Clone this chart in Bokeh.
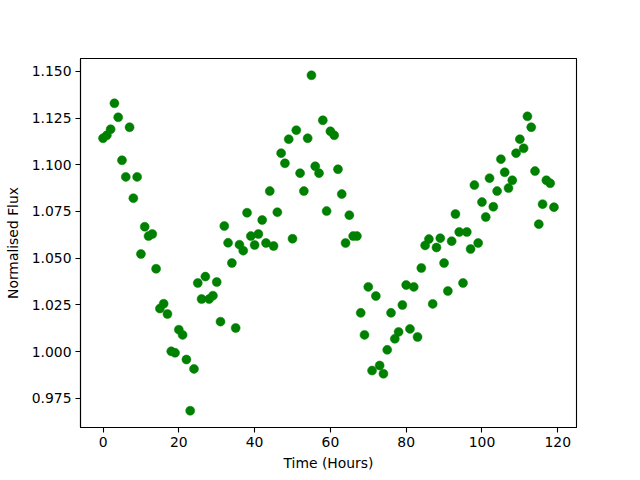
from bokeh.plotting import figure
from bokeh.models import Range1d, FixedTicker, PrintfTickFormatter
from bokeh.embed import file_html
from bokeh.resources import INLINE

hours = list(range(120))
flux = [
    1.1142, 1.1158, 1.1190, 1.1329, 1.1254, 1.1024, 1.0935, 1.1201, 1.0821, 1.0935,
    1.0522, 1.0668, 1.0618, 1.0629, 1.0443, 1.0230, 1.0256, 1.0201, 1.0001, 0.9993,
    1.0117, 1.0089, 0.9957, 0.9683, 0.9907, 1.0367, 1.0281, 1.0401, 1.0281, 1.0299,
    1.0372, 1.0160, 1.0672, 1.0582, 1.0474, 1.0126, 1.0572, 1.0540, 1.0743, 1.0618,
    1.0570, 1.0629, 1.0704, 1.0581, 1.0859, 1.0565, 1.0746, 1.1062, 1.1008, 1.1137,
    1.0604, 1.1185, 1.0955, 1.0859, 1.1142, 1.1479, 1.0992, 1.0955, 1.1238, 1.0752,
    1.1179, 1.1158, 1.0976, 1.0843, 1.0581, 1.0730, 1.0618, 1.0618, 1.0207, 1.0089,
    1.0346, 0.9898, 1.0297, 0.9925, 0.9881, 1.0009, 1.0207, 1.0068, 1.0105, 1.0249,
    1.0356, 1.0121, 1.0346, 1.0078, 1.0447, 1.0568, 1.0602, 1.0255, 1.0557, 1.0607,
    1.0474, 1.0324, 1.0591, 1.0736, 1.0640, 1.0367, 1.0640, 1.0549, 1.0891, 1.0581,
    1.0800, 1.0720, 1.0928, 1.0775, 1.0859, 1.1030, 1.0960, 1.0875, 1.0917, 1.1062,
    1.1137, 1.1088, 1.1259, 1.1201, 1.0966, 1.0682, 1.0789, 1.0917, 1.0901, 1.0773,
]
x_ticks = [0, 20, 40, 60, 80, 100, 120]
y_ticks = [0.975, 1.000, 1.025, 1.050, 1.075, 1.100, 1.125, 1.150]

xspan = max(hours) - min(hours)
yspan = max(flux) - min(flux)

p = figure(frame_width=496, frame_height=369, output_backend="svg", toolbar_location=None,
           x_range=Range1d(min(hours) - 0.05 * xspan, max(hours) + 0.05 * xspan),
           y_range=Range1d(min(flux) - 0.05 * yspan, max(flux) + 0.05 * yspan),
           min_border_left=80, min_border_right=48, min_border_top=58, min_border_bottom=37)

p.scatter(hours, flux, size=9, fill_color="#008000", line_color="#008000", line_width=0.5)

p.xgrid.visible = False
p.ygrid.visible = False
p.outline_line_color = "black"
p.outline_line_width = 1.1

p.xaxis.ticker = FixedTicker(ticks=x_ticks)
p.yaxis.ticker = FixedTicker(ticks=y_ticks)
p.yaxis.formatter = PrintfTickFormatter(format="%.3f")
p.xaxis.axis_label = "Time (Hours)"
p.yaxis.axis_label = "Normalised Flux"

for ax in (p.xaxis, p.yaxis):
    ax.axis_label_text_font = "DejaVu Sans"
    ax.axis_label_text_font_size = "13.9px"
    ax.axis_label_text_font_style = "normal"
    ax.axis_label_text_color = "black"
    ax.major_label_text_font = "DejaVu Sans"
    ax.major_label_text_font_size = "13.9px"
    ax.major_label_text_color = "black"
    ax.minor_tick_line_color = None
    ax.major_tick_in = 0
    ax.major_tick_out = 5
    ax.major_tick_line_color = "black"
    ax.axis_line_color = "black"
    ax.axis_line_width = 1.1
    ax.major_tick_line_width = 1.1

p.xaxis.major_label_standoff = 4
p.xaxis.axis_label_standoff = 5
p.yaxis.major_label_standoff = 4
p.yaxis.axis_label_standoff = 8

open("out.html", "w").write(file_html(p, INLINE))
